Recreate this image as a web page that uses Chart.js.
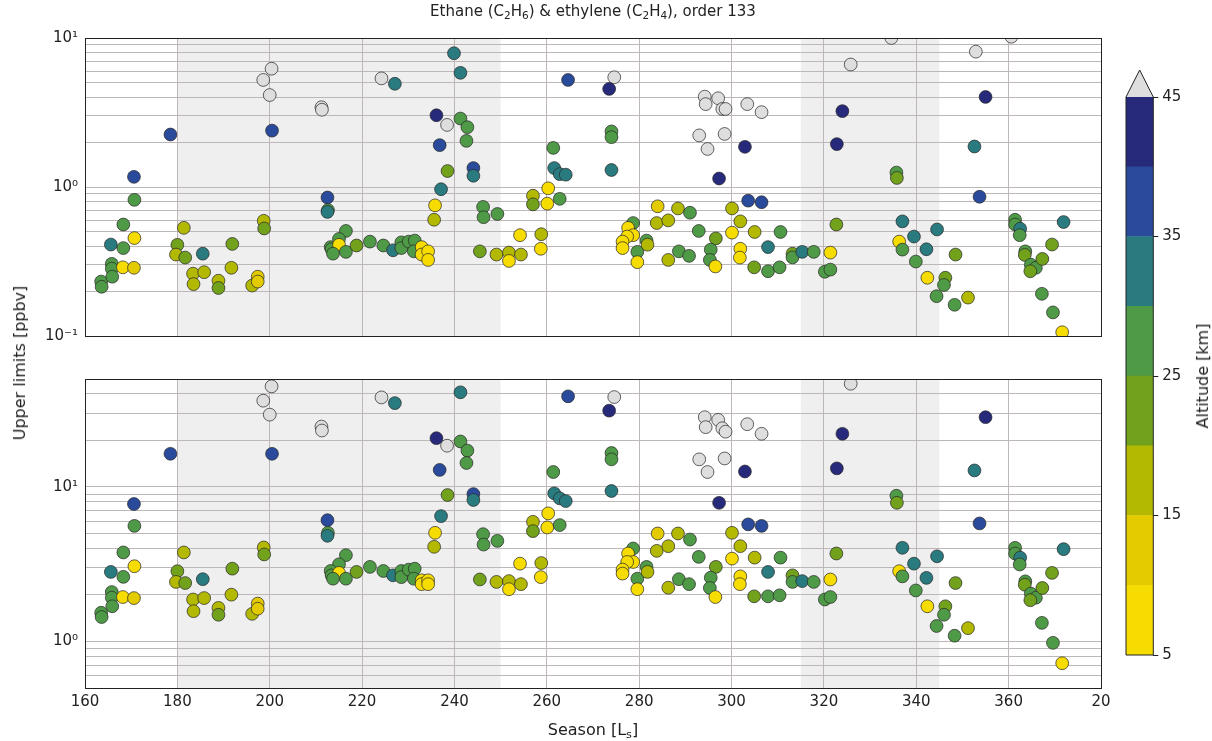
<!DOCTYPE html>
<html>
<head>
<meta charset="utf-8">
<script src="https://cdn.jsdelivr.net/npm/chart.js@4"></script>
<style>
  body { margin: 0; background: #fff; font-family: "DejaVu Sans", sans-serif; color: #222; }
  #wrap { position: relative; width: 1212px; height: 741px; overflow: hidden; }
  canvas { position: absolute; }
  .txt { position: absolute; white-space: nowrap; line-height: 1; }
  .txt sub { font-size: 70%; vertical-align: -0.3em; line-height: 0; }
  #title { left: 85px; width: 1016px; top: 4px; text-align: center; font-size: 15px; }
  #ytitle { left: 20px; top: 363px; font-size: 16px; transform: translate(-50%, -50%) rotate(-90deg); }
  #xtitle { left: 593px; top: 730px; font-size: 16px; transform: translate(-50%, -50%); }
  #cbtitle { left: 1203px; top: 376px; font-size: 16px; transform: translate(-50%, -50%) rotate(-90deg); }
</style>
</head>
<body>
<div id="wrap">
  <canvas id="top" width="1112" height="352" style="left:0;top:0"></canvas>
  <canvas id="bottom" width="1112" height="381" style="left:0;top:360px"></canvas>
  <canvas id="cbar" width="112" height="640" style="left:1100px;top:50px"></canvas>
  <div class="txt" id="title">Ethane (C<sub>2</sub>H<sub>6</sub>) &amp; ethylene (C<sub>2</sub>H<sub>4</sub>), order 133</div>
  <div class="txt" id="ytitle">Upper limits [ppbv]</div>
  <div class="txt" id="xtitle">Season [L<sub>s</sub>]</div>
  <div class="txt" id="cbtitle">Altitude [km]</div>
</div>
<script>
// solar longitude of each retrieval
const LS = [
  163.5, 163.6, 165.6, 165.8, 165.8, 165.9, 168.3, 168.3, 168.2, 170.6,
  170.7, 170.7, 170.6, 178.5, 181.4, 180.0, 179.7, 181.7, 185.5, 183.4,
  183.5, 185.8, 188.9, 188.9, 191.9, 191.7, 196.2, 197.4, 197.4, 198.7,
  198.8, 198.6, 200.4, 200.0, 200.5, 211.2, 211.3, 212.5, 212.6, 212.5,
  216.5, 215.0, 213.2, 213.4, 215.0, 213.7, 216.5, 218.8, 221.7, 224.6,
  226.7, 224.2, 227.1, 228.5, 228.5, 230.1, 231.4, 231.2, 232.9, 232.9,
  234.3, 234.3, 235.8, 235.6, 237.1, 236.1, 238.4, 236.8, 238.5, 239.9,
  241.3, 241.3, 242.8, 242.6, 244.1, 244.1, 246.2, 246.3, 249.3, 245.5,
  249.1, 251.8, 251.8, 254.4, 254.2, 257.0, 257.0, 258.8, 258.7, 260.3,
  260.1, 262.8, 261.4, 261.6, 262.8, 264.1, 264.6, 274.6, 273.5, 274.0,
  274.0, 274.0, 278.7, 277.6, 278.7, 277.4, 276.4, 276.4, 279.6, 279.6,
  281.6, 281.8, 284.0, 283.8, 286.3, 286.3, 288.4, 288.6, 291.0, 290.8,
  292.9, 294.2, 294.4, 297.1, 298.0, 298.7, 293.0, 294.8, 298.5, 303.4,
  306.5, 302.9, 297.3, 303.6, 306.5, 296.6, 295.5, 295.3, 296.5, 300.1,
  301.9, 300.1, 301.9, 301.8, 305.0, 304.9, 307.9, 307.9, 310.4, 310.6,
  313.2, 313.2, 315.3, 317.8, 321.4, 320.2, 321.4, 322.7, 324.0, 322.8,
  325.8, 334.6, 335.7, 335.8, 337.0, 336.3, 337.0, 339.5, 339.9, 342.2,
  344.5, 342.4, 346.3, 346.0, 344.4, 348.5, 348.3, 351.2, 352.9, 355.0,
  352.6, 353.7, 360.6, 361.4, 361.4, 362.5, 362.4, 363.6, 363.5, 364.8,
  365.9, 364.7, 367.3, 369.4, 371.9, 367.2, 369.6, 371.6,
];

// altitude [km] (binned by colour)
const ALT = [
  27.5, 27.5, 32.5, 27.5, 27.5, 27.5, 27.5, 27.5, 7.5, 37.5,
  27.5, 7.5, 12.5, 37.5, 17.5, 22.5, 17.5, 22.5, 32.5, 17.5,
  17.5, 17.5, 17.5, 22.5, 22.5, 17.5, 17.5, 12.5, 12.5, 17.5,
  22.5, 50, 50, 50, 37.5, 50, 50, 37.5, 27.5, 32.5,
  27.5, 27.5, 27.5, 27.5, 7.5, 27.5, 27.5, 22.5, 27.5, 27.5,
  32.5, 50, 32.5, 27.5, 27.5, 27.5, 27.5, 27.5, 7.5, 7.5,
  7.5, 7.5, 7.5, 17.5, 32.5, 42.5, 50, 37.5, 22.5, 32.5,
  32.5, 27.5, 27.5, 27.5, 37.5, 32.5, 27.5, 27.5, 27.5, 22.5,
  17.5, 17.5, 7.5, 17.5, 7.5, 17.5, 22.5, 17.5, 7.5, 7.5,
  7.5, 27.5, 27.5, 32.5, 32.5, 32.5, 37.5, 50, 42.5, 27.5,
  27.5, 32.5, 27.5, 7.5, 7.5, 7.5, 7.5, 7.5, 27.5, 7.5,
  27.5, 17.5, 12.5, 17.5, 17.5, 17.5, 17.5, 27.5, 27.5, 27.5,
  27.5, 50, 50, 50, 50, 50, 50, 50, 50, 50,
  50, 42.5, 42.5, 37.5, 37.5, 22.5, 27.5, 27.5, 7.5, 17.5,
  17.5, 7.5, 7.5, 7.5, 17.5, 22.5, 27.5, 32.5, 27.5, 27.5,
  22.5, 27.5, 32.5, 27.5, 7.5, 27.5, 27.5, 22.5, 42.5, 42.5,
  50, 50, 27.5, 22.5, 32.5, 7.5, 27.5, 32.5, 27.5, 32.5,
  32.5, 7.5, 22.5, 27.5, 27.5, 22.5, 27.5, 17.5, 50, 42.5,
  32.5, 37.5, 50, 27.5, 27.5, 32.5, 27.5, 27.5, 22.5, 27.5,
  27.5, 22.5, 22.5, 22.5, 32.5, 27.5, 27.5, 7.5,
];

// upper limits [ppbv], ethane (top panel)
const C2H6 = [
  0.232, 0.214, 0.411, 0.305, 0.283, 0.25, 0.56, 0.389, 0.289, 1.17,
  0.82, 0.454, 0.287, 2.25, 0.532, 0.409, 0.352, 0.336, 0.357, 0.262,
  0.223, 0.268, 0.235, 0.21, 0.415, 0.287, 0.218, 0.25, 0.232, 0.593,
  0.527, 5.23, 6.22, 4.14, 2.39, 3.43, 3.3, 0.85, 0.70, 0.68,
  0.507, 0.448, 0.395, 0.382, 0.409, 0.357, 0.367, 0.405, 0.43, 0.405,
  0.376, 5.36, 4.93, 0.425, 0.389, 0.43, 0.437, 0.37, 0.395, 0.352,
  0.37, 0.324, 0.753, 0.603, 0.966, 3.03, 2.61, 1.91, 1.28, 7.9,
  5.84, 2.88, 2.52, 2.04, 1.34, 1.19, 0.735, 0.627, 0.659, 0.37,
  0.352, 0.363, 0.319, 0.352, 0.475, 0.874, 0.765, 0.482, 0.385, 0.98,
  0.773, 0.833, 1.83, 1.34, 1.22, 1.21, 5.23, 5.45, 4.55, 2.36,
  2.16, 1.3, 0.573, 0.532, 0.475, 0.465, 0.43, 0.389, 0.367, 0.313,
  0.437, 0.41, 0.742, 0.573, 0.597, 0.324, 0.718, 0.37, 0.672, 0.345,
  0.507, 4.04, 3.6, 3.94, 3.34, 3.34, 2.22, 1.8, 2.27, 3.6,
  3.18, 1.86, 1.14, 0.81, 0.79, 0.452, 0.38, 0.324, 0.293, 0.718,
  0.588, 0.494, 0.385, 0.336, 0.499, 0.289, 0.272, 0.395, 0.289, 0.499,
  0.357, 0.337, 0.367, 0.367, 0.363, 0.27, 0.279, 0.56, 3.23, 1.94,
  6.64, 10.0, 1.25, 1.15, 0.588, 0.43, 0.38, 0.465, 0.316, 0.382,
  0.519, 0.246, 0.246, 0.22, 0.185, 0.352, 0.162, 0.181, 8.1, 4.02,
  1.87, 0.86, 10.2, 0.603, 0.56, 0.525, 0.475, 0.37, 0.35, 0.301,
  0.287, 0.272, 0.329, 0.411, 0.582, 0.192, 0.144, 0.106,
];

// upper limits [ppbv], ethylene (bottom panel); null = off the top of the axis
const C2H4 = [
  1.535, 1.44, 2.82, 2.09, 1.92, 1.69, 3.77, 2.62, 1.94, 7.76,
  5.6, 3.07, 1.91, 16.4, 3.77, 2.85, 2.43, 2.39, 2.53, 1.87,
  1.57, 1.91, 1.65, 1.49, 2.96, 2.01, 1.51, 1.76, 1.63, 4.06,
  3.66, 36.2, 44.8, 29.4, 16.4, 24.6, 23.2, 6.1, 5.05, 4.83,
  3.62, 3.16, 2.86, 2.68, 2.78, 2.55, 2.55, 2.82, 3.04, 2.86,
  2.68, 38.0, 34.9, 2.86, 2.61, 2.92, 2.96, 2.55, 2.49, 2.35,
  2.49, 2.35, 5.05, 4.1, 6.48, 20.7, 18.5, 12.9, 8.87, null,
  41, 19.7, 17.2, 14.3, 9.0, 8.24, 4.95, 4.24, 4.48, 2.52,
  2.43, 2.46, 2.18, 2.35, 3.19, 5.95, 5.18, 3.22, 2.61, 6.75,
  5.47, 5.67, 12.5, 9.1, 8.44, 8.11, 38.6, 38.2, 31.2, 16.6,
  15.1, 9.42, 4.0, 3.71, 3.27, 3.27, 2.92, 2.75, 2.55, 2.18,
  3.04, 2.82, 5.0, 3.86, 4.14, 2.23, 5.0, 2.53, 4.57, 2.35,
  3.53, 28.3, 24.4, 27.2, 24.0, 22.8, 15.1, 12.5, 15.3, 25.5,
  22.1, 12.6, 7.9, 5.73, 5.6, 3.04, 2.59, 2.22, 1.94, 5.05,
  4.14, 3.44, 2.64, 2.35, 3.49, 1.96, 1.96, 2.82, 1.99, 3.49,
  2.68, 2.43, 2.46, 2.43, 2.52, 1.87, 1.94, 3.71, 22.1, 13.2,
  46.6, null, 8.78, 7.9, 4.04, 2.85, 2.64, 3.19, 2.14, 2.58,
  3.56, 1.69, 1.69, 1.49, 1.26, 2.39, 1.09, 1.22, null, 28.3,
  12.8, 5.81, null, 4.04, 3.71, 3.49, 3.15, 2.45, 2.33, 2.04,
  1.92, 1.85, 2.22, 2.78, 3.96, 1.32, 0.98, 0.723,
];

const SHADED_LS = [[180, 250], [315, 345]];

const X_TICKS = [160, 180, 200, 220, 240, 260, 280, 300, 320, 340, 360, 380];
const X_TICK_LABELS = ["160", "180", "200", "220", "240", "260", "280", "300", "320", "340", "360", "20"];

const TOP_Y_TICKS = [0.1, 0.2, 0.3, 0.4, 0.5, 0.6, 0.7, 0.8, 0.9, 1, 2, 3, 4, 5, 6, 7, 8, 9, 10];
const BOTTOM_Y_TICKS = [0.5, 0.6, 0.7, 0.8, 0.9, 1, 2, 3, 4, 5, 6, 7, 8, 9, 10, 20, 30, 40, 50];
const Y_LABELS = { "-1": "10\u207B\u00B9", "0": "10\u2070", "1": "10\u00B9" };

const ALT_EDGES = [5, 10, 15, 20, 25, 30, 35, 40, 45];
const ALT_TICKS = [5, 15, 25, 35, 45];
const ALT_COLORS = ["#f6dc00", "#e3cb00", "#b3b800", "#72a11b", "#4f9a46", "#2a7b80", "#2a4b9c", "#272a7b"];
const OVER_COLOR = "#dedede";

const GRID = "#bdb7b7";
const INK = "#222";
const FONT = { family: "DejaVu Sans", size: 15 };

function altColor(a) {
  if (a >= 45) return OVER_COLOR;
  return ALT_COLORS[Math.max(0, Math.floor((a - 5) / 5))];
}

const shadePlugin = {
  id: "shade",
  beforeDraw(chart) {
    const { ctx, chartArea: a, scales } = chart;
    ctx.save();
    ctx.fillStyle = "#efefef";
    for (const [lo, hi] of SHADED_LS) {
      const x0 = scales.x.getPixelForValue(lo);
      const x1 = scales.x.getPixelForValue(hi);
      ctx.fillRect(x0, a.top, x1 - x0, a.bottom - a.top);
    }
    ctx.restore();
  },
};

const framePlugin = {
  id: "frame",
  afterDraw(chart) {
    const { ctx, chartArea: a } = chart;
    ctx.save();
    ctx.strokeStyle = INK;
    ctx.lineWidth = 1;
    ctx.strokeRect(Math.round(a.left) + 0.5, Math.round(a.top) + 0.5,
      Math.round(a.right - a.left), Math.round(a.bottom - a.top));
    ctx.restore();
  },
};

function yLabel(v) {
  const e = Math.round(Math.log10(v));
  return Math.abs(v - Math.pow(10, e)) < 1e-9 ? Y_LABELS[String(e)] : "";
}

function makePanel(id, values, yMin, yMax, yTicks, showX, xHeight) {
  const points = [];
  const colors = [];
  LS.forEach((ls, i) => {
    if (values[i] == null) return;
    points.push({ x: ls, y: values[i] });
    colors.push(altColor(ALT[i]));
  });

  return new Chart(document.getElementById(id), {
    type: "scatter",
    data: {
      datasets: [{
        data: points,
        pointBackgroundColor: colors,
        pointBorderColor: "rgba(40,40,40,0.9)",
        pointBorderWidth: 0.8,
        pointRadius: 6.4,
        clip: 0,
      }],
    },
    options: {
      responsive: false,
      devicePixelRatio: 1,
      animation: false,
      events: [],
      layout: { padding: { top: id === "top" ? 38 : 19, right: 11, left: 0, bottom: 0 } },
      plugins: { legend: { display: false }, tooltip: { enabled: false } },
      scales: {
        x: {
          type: "linear",
          min: 160,
          max: 380,
          afterBuildTicks: (s) => { s.ticks = X_TICKS.map((v) => ({ value: v })); },
          afterFit: (s) => {
            s.height = xHeight;
            // keep both panels' plot areas aligned: no label overflow padding
            s.paddingLeft = 0;
            s.paddingRight = 0;
          },
          ticks: {
            display: showX,
            autoSkip: false,
            maxRotation: 0,
            padding: 5,
            color: INK,
            font: FONT,
            callback: (v) => X_TICK_LABELS[X_TICKS.indexOf(v)],
          },
          grid: { color: GRID, lineWidth: 1, drawTicks: false },
          border: { display: false },
        },
        y: {
          type: "logarithmic",
          min: yMin,
          max: yMax,
          afterBuildTicks: (s) => { s.ticks = yTicks.map((v) => ({ value: v })); },
          afterFit: (s) => { s.width = 85; },
          ticks: { autoSkip: false, padding: 7, color: INK, font: FONT, callback: yLabel },
          grid: { color: GRID, lineWidth: 1, drawTicks: false },
          border: { display: false },
        },
      },
    },
    plugins: [shadePlugin, framePlugin],
  });
}

makePanel("top", C2H6, 0.1, 10, TOP_Y_TICKS, false, 5);
makePanel("bottom", C2H4, 0.5, 50, BOTTOM_Y_TICKS, true, 53);

/* ---------------- colour bar ---------------- */

const cbarOutline = {
  id: "cbarOutline",
  afterDraw(chart) {
    const { ctx, chartArea: a } = chart;
    const mid = (a.left + a.right) / 2;
    ctx.save();
    ctx.beginPath();
    ctx.moveTo(a.left, a.top);
    ctx.lineTo(mid, a.top - 27);
    ctx.lineTo(a.right, a.top);
    ctx.closePath();
    ctx.fillStyle = OVER_COLOR;
    ctx.fill();
    ctx.strokeStyle = INK;
    ctx.lineWidth = 1;
    ctx.beginPath();
    ctx.moveTo(a.left, a.bottom);
    ctx.lineTo(a.left, a.top);
    ctx.lineTo(mid, a.top - 27);
    ctx.lineTo(a.right, a.top);
    ctx.lineTo(a.right, a.bottom);
    ctx.closePath();
    ctx.stroke();
    ctx.restore();
  },
};

new Chart(document.getElementById("cbar"), {
  type: "bar",
  data: {
    labels: [""],
    datasets: ALT_COLORS.map((c, i) => ({
      data: [[ALT_EDGES[i], ALT_EDGES[i + 1]]],
      backgroundColor: c,
      borderWidth: 0,
      barPercentage: 1,
      categoryPercentage: 1,
    })),
  },
  options: {
    responsive: false,
    devicePixelRatio: 1,
    animation: false,
    events: [],
    layout: { padding: { top: 47, bottom: 35, left: 26, right: 0 } },
    plugins: { legend: { display: false }, tooltip: { enabled: false } },
    scales: {
      x: { display: false, stacked: true },
      y: {
        position: "right",
        min: 5,
        max: 45,
        afterBuildTicks: (s) => { s.ticks = ALT_TICKS.map((v) => ({ value: v })); },
        afterFit: (s) => { s.width = 58.7; },
        ticks: { padding: 4, color: INK, font: FONT },
        grid: { drawOnChartArea: false, drawTicks: true, tickLength: 5, color: INK },
        border: { display: false },
      },
    },
  },
  plugins: [cbarOutline],
});
</script>
</body>
</html>
